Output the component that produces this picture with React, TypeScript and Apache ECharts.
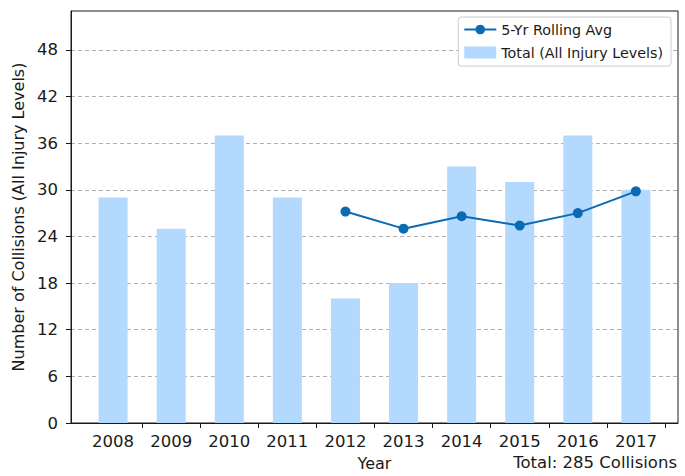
import React, { useEffect, useRef } from "react";
import * as echarts from "echarts";

const years = ["2008", "2009", "2010", "2011", "2012", "2013", "2014", "2015", "2016", "2017"];
const totals = [29, 25, 37, 29, 16, 18, 33, 31, 37, 30];
const rollingYears = ["2012", "2013", "2014", "2015", "2016", "2017"];
const rollingAvg = [27.2, 25.0, 26.6, 25.4, 27.0, 29.8];
const yTicks = [0, 6, 12, 18, 24, 30, 36, 42, 48];
const totalText = "Total: 285 Collisions";

const FONT = "DejaVu Sans";

export default function App() {
  const ref = useRef<HTMLDivElement>(null);
  useEffect(() => {
    if (!ref.current) return;
    const chart = echarts.init(ref.current, undefined, { renderer: "svg" });
    const barData = totals.map((v, i) => [i, v]);
    const lineData = rollingAvg.map((v, i) => [years.indexOf(rollingYears[i]), v]);
    const boundaries = years.map((_, i) => i + 0.5);
    const labelPos = years.map((_, i) => i);
    chart.setOption({
      animation: false,
      backgroundColor: "#ffffff",
      textStyle: { fontFamily: FONT },
      grid: {
        left: 71,
        right: 7,
        top: 11,
        bottom: 50,
        show: true,
        borderColor: "#1a1a1a",
        borderWidth: 1,
        backgroundColor: "transparent",
      },
      xAxis: {
        type: "value",
        min: -0.725,
        max: 9.725,
        name: "Year",
        nameLocation: "middle",
        nameGap: 32,
        nameTextStyle: { fontFamily: FONT, fontSize: 16, color: "#1a1a1a" },
        axisLine: { show: true, onZero: false, lineStyle: { color: "#1a1a1a", width: 1 } },
        axisTick: { show: true, length: 5, customValues: boundaries, lineStyle: { color: "#1a1a1a" } },
        axisLabel: {
          customValues: labelPos,
          formatter: (v: number) => years[Math.round(v)] ?? "",
          fontFamily: FONT,
          fontSize: 16.5,
          color: "#1a1a1a",
          margin: 10,
        },
        splitLine: { show: false },
      },
      yAxis: {
        type: "value",
        min: 0,
        max: 53,
        interval: 6,
        name: "Number of Collisions (All Injury Levels)",
        nameLocation: "middle",
        nameGap: 41,
        nameRotate: 90,
        nameTextStyle: { fontFamily: FONT, fontSize: 16, color: "#1a1a1a" },
        axisLine: { show: true, onZero: false, lineStyle: { color: "#1a1a1a", width: 1 } },
        axisTick: { show: true, length: 5, customValues: yTicks, lineStyle: { color: "#1a1a1a" } },
        axisLabel: {
          customValues: yTicks,
          fontFamily: FONT,
          fontSize: 16.5,
          color: "#1a1a1a",
          margin: 13,
        },
        splitLine: {
          show: true,
          lineStyle: { color: "#b0b0b0", type: [4, 3], width: 1 },
        },
      },
      legend: {
        orient: "vertical",
        right: 14,
        top: 17,
        padding: [4, 8, 5, 5],
        backgroundColor: "rgba(255,255,255,0.85)",
        borderColor: "#cccccc",
        borderWidth: 1,
        borderRadius: 3,
        itemWidth: 32,
        itemHeight: 12,
        itemGap: 6,
        textStyle: { fontFamily: FONT, fontSize: 14.3, color: "#1a1a1a", lineHeight: 17 },
        data: [
          { name: "5-Yr Rolling Avg", lineStyle: { width: 2 } },
          { name: "Total (All Injury Levels)", icon: "rect" },
        ],
      },
      series: [
        {
          name: "Total (All Injury Levels)",
          type: "bar",
          data: barData,
          barWidth: 29,
          itemStyle: { color: "#b3d9ff" },
          z: 2,
        },
        {
          name: "5-Yr Rolling Avg",
          type: "line",
          data: lineData,
          symbol: "circle",
          symbolSize: 10,
          showSymbol: true,
          lineStyle: { color: "#0a6bb5", width: 2 },
          itemStyle: { color: "#0a6bb5" },
          z: 3,
        },
      ],
      graphic: [
        {
          type: "text",
          right: 8,
          top: 454,
          style: {
            text: totalText,
            fontFamily: FONT,
            fontSize: 16.5,
            fill: "#1a1a1a",
          },
        },
      ],
    });
    return () => chart.dispose();
  }, []);
  return <div ref={ref} style={{ width: 685, height: 476, position: "fixed", left: 0, top: 0 }} />;
}
